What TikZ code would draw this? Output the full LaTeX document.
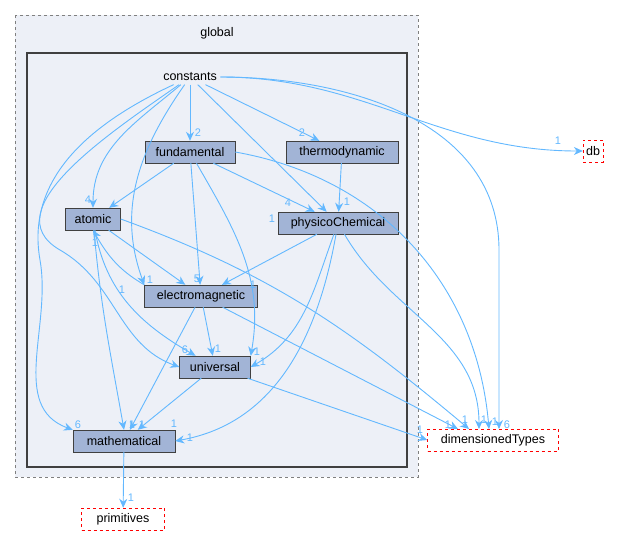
\documentclass[tikz,border=0pt]{standalone}
\usepackage{fontspec}
\setmainfont{Liberation Sans}
\usetikzlibrary{arrows.meta}
\definecolor{edge}{HTML}{63B8FF}
\definecolor{nodefill}{HTML}{A2B4D6}
\definecolor{clfill}{HTML}{EDF0F7}
\begin{document}
\begin{tikzpicture}[x=1pt,y=-1pt,font=\fontsize{12.5}{14}\selectfont,
 box/.style={draw=black!75,fill=nodefill,minimum height=22pt,inner sep=2pt},
 ext/.style={draw=red,dashed,fill=white,minimum height=22pt,inner sep=3pt},
 e/.style={draw=edge,-{Stealth[length=9pt,width=8pt]},line width=0.9pt},
 lb/.style={text=edge,font=\fontsize{11}{12}\selectfont,inner sep=1pt}]
\useasboundingbox (0,0) rectangle (617,536);
\draw[gray,dashed,line width=0.9pt,fill=clfill] (15,15) rectangle (418,477);
\node at (217,33) {global};
\draw[black!75,line width=2pt,fill=clfill] (27,53) rectangle (407,467);
\node (c) at (190,77) {constants};
\node[box,minimum width=90pt] (fu) at (190,152) {fundamental};
\node[box,minimum width=112pt] (th) at (342,152) {thermodynamic};
\node[box,minimum width=55pt] (at) at (93,219) {atomic};
\node[box,minimum width=120pt] (pc) at (338,223) {physicoChemical};
\node[box,minimum width=113pt] (em) at (201,296) {electromagnetic};
\node[box,minimum width=71pt] (un) at (215,367) {universal};
\node[box,minimum width=102pt] (ma) at (124,441) {mathematical};
\node[ext] (db) at (593,151) {db};
\node[ext,minimum width=131pt] (dt) at (493,440) {dimensionedTypes};
\node[ext,minimum width=83pt] (pr) at (123,519) {primitives};
\coordinate (d1) at (458,429);
\coordinate (d2) at (469,429);
\coordinate (d3) at (479,429);
\coordinate (d4) at (489,429);
\coordinate (d5) at (499,429);
% from constants
\draw[e] (c) -- (fu); \node[lb] at (198,133) {2};
\draw[e] (c) -- (th); \node[lb] at (302,133) {2};
\draw[e] (c) to[out=220,in=90] (at); \node[lb] at (88,200) {4};
\draw[e] (c) -- (pc); \node[lb] at (288,203) {4};
\draw[e] (c) to[out=235,in=110] (em.north west); \node[lb] at (150,280) {1};
\draw[e] (c) to[out=215,in=150] (60,250) to[out=-30,in=160] (un.west);
\draw[e] (c) to[out=205,in=100] (40,260) to[out=-80,in=160] (ma.north west); \node[lb] at (78,425) {6};
\draw[e] (c) to[out=0,in=90] (499,250) -- (d5); \node[lb] at (507,425) {6};
\draw[e] (c.east) to[out=0,in=180] (db.west); \node[lb] at (558,141) {1};
% fundamental
\draw[e] (fu) -- (at);
\draw[e] (fu) -- (em); \node[lb] at (197,279) {5};
\draw[e] (fu) -- (pc); \node[lb] at (272,219) {1};
\draw[e] (fu) to[out=-60,in=80] (un.north east); \node[lb] at (257,352) {1};
\draw[e] (fu.east) to[out=-10,in=95] (d4); \node[lb] at (495,422) {1};
\draw[e] (th) -- (pc); \node[lb] at (347,202) {1};
% atomic
\draw[e] (at) -- (em); \node[lb] at (122,290) {1};
\draw[e] (at) to[out=-80,in=150] (un); \node[lb] at (185,350) {6};
\draw[e] (at) to[out=-85,in=100] (ma.north); \node[lb] at (132,425) {1};
\draw[e] (at.east) to[out=-20,in=140] (d2); \node[lb] at (465,420) {1};
% electromagnetic
\draw[e] (em.north west) to[out=150,in=-60] (at.south); \node[lb] at (95,243) {1};
\draw[e] (em) -- (un); \node[lb] at (218,349) {1};
\draw[e] (em) -- (ma); \node[lb] at (142,425) {1};
\draw[e] (em) -- (d1); \node[lb] at (448,425) {1};
% physicoChemical
\draw[e] (pc) -- (em); \node[lb] at (253,285) {1};
\draw[e] (pc) to[out=-110,in=30] (un.east); \node[lb] at (263,362) {1};
\draw[e] (pc) to[out=-100,in=10] (ma.east); \node[lb] at (190,438) {1};
\draw[e] (pc) to[out=-60,in=90] (d3); \node[lb] at (484,420) {1};
% universal
\draw[e] (un) -- (ma); \node[lb] at (174,424) {1};
\draw[e] (un) -- (dt.west); \node[lb] at (420,430) {1};
\draw[e] (ma) -- (pr); \node[lb] at (131,498) {1};
\end{tikzpicture}
\end{document}
